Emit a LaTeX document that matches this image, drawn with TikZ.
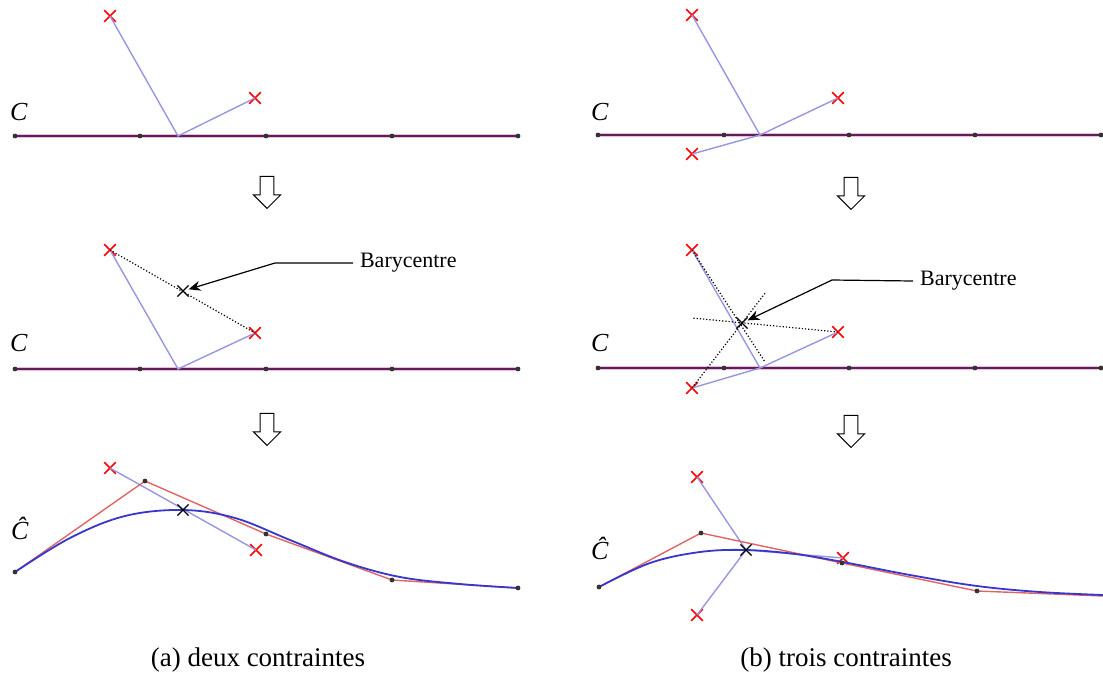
\documentclass[tikz,border=0pt]{standalone}
\usepackage{fontspec}
\setmainfont{Liberation Serif}
\usetikzlibrary{shapes.misc,shapes.arrows,arrows.meta}
\definecolor{courbe}{RGB}{95,30,85}
\definecolor{halo}{RGB}{235,190,225}
\definecolor{lien}{RGB}{150,150,225}
\definecolor{poly}{RGB}{225,100,100}
\definecolor{lisse}{RGB}{55,55,205}

\tikzset{
  contrainte/.style={cross out,draw=red,line width=0.8pt,minimum size=5pt,inner sep=0pt},
  bary/.style={cross out,draw=black,line width=0.6pt,minimum size=5pt,inner sep=0pt},
  pt/.style={circle,fill=black!80,inner sep=0pt,minimum size=2.4pt},
  fleche/.style={single arrow,draw,line width=0.5pt,rotate=-90,inner xsep=0pt,inner ysep=3.2pt,
    minimum height=16pt,single arrow head extend=3.4pt},
  etiq/.style={font=\fontsize{11}{13}\selectfont},
  titre/.style={font=\fontsize{13.5}{16}\selectfont}
}

\begin{document}
\begin{tikzpicture}[x=0.5pt,y=-0.5pt]
\useasboundingbox (0,0) rectangle (1103,675);

%% (a) deux contraintes
% haut
\foreach \x [count=\i] in {15,140,266,392,518}
  \coordinate (ah\i) at (\x,136);
\coordinate (aha) at (178,136);
\draw[halo,line width=2pt] (ah1) -- (ah5);
\draw[courbe,line width=0.9pt] (ah1) -- (ah5);
\foreach \i in {1,...,5} \node[pt] (dah\i) at (ah\i) {};
\node[contrainte] (ahc1) at (110,16) {};
\node[contrainte] (ahc2) at (255,98) {};
\draw[lien,line width=0.7pt] (ahc1.center) -- (aha) -- (ahc2.center);
\node (ahC) at (19,112) {\fontsize{13}{15}\selectfont\textit{C}};

\node[fleche] (af1) at (267,189) {};

% milieu
\foreach \x [count=\i] in {15,140,266,392,518}
  \coordinate (am\i) at (\x,369);
\coordinate (ama) at (178,369);
\draw[halo,line width=2pt] (am1) -- (am5);
\draw[courbe,line width=0.9pt] (am1) -- (am5);
\foreach \i in {1,...,5} \node[pt] (dam\i) at (am\i) {};
\node[contrainte] (amc1) at (110,250) {};
\node[contrainte] (amc2) at (255,333) {};
\draw[lien,line width=0.7pt] (amc1.center) -- (ama) -- (amc2.center);
\draw[densely dotted,line width=0.6pt] (amc1.center) -- (amc2.center);
\node[bary] (amb) at (183,291) {};
\node[etiq,anchor=west] (amt) at (353,263) {Barycentre};
\coordinate (amk) at (275,263);
\draw[line width=0.6pt,-{Stealth[length=6pt,width=5pt,inset=2pt]}] (amt.west) -- (amk) -- (amb);
\node (amC) at (19,343) {\fontsize{13}{15}\selectfont\textit{C}};

\node[fleche] (af2) at (267,426) {};

% bas
\coordinate (ab1) at (15,572);
\coordinate (ab2) at (145,481);
\coordinate (ab3) at (266,534);
\coordinate (ab4) at (392,580);
\coordinate (ab5) at (518,588);
\node[contrainte] (abc1) at (110,468) {};
\node[contrainte] (abc2) at (256,550) {};
\draw[lien,line width=0.7pt] (abc1.center) -- (abc2.center);
\draw[poly,line width=0.7pt] (ab1) -- (ab2) -- (ab3) -- (ab4) -- (ab5);
\draw[lisse,line width=0.9pt] plot[smooth,tension=0.6] coordinates
  {(15,572) (70,538) (125,516) (183,510) (235,518) (290,540) (345,562) (400,577) (460,584) (518,588)};
\foreach \i in {1,...,5} \node[pt] (dab\i) at (ab\i) {};
\node[bary] (abb) at (183,510) {};
\node (abC) at (20,528) {\fontsize{13}{15}\selectfont\textit{\^C}};

\node[titre] (acap) at (258,660) {(a) deux contraintes};

%% (b) trois contraintes
% haut
\foreach \x [count=\i] in {598,724,849,975,1101}
  \coordinate (bh\i) at (\x,135);
\coordinate (bha) at (760,135);
\draw[halo,line width=2pt] (bh1) -- (1103,135);
\draw[courbe,line width=0.9pt] (bh1) -- (1103,135);
\foreach \i in {1,...,5} \node[pt] (dbh\i) at (bh\i) {};
\node[contrainte] (bhc1) at (692,15) {};
\node[contrainte] (bhc2) at (838,98) {};
\node[contrainte] (bhc3) at (692,154) {};
\draw[lien,line width=0.7pt] (bhc1.center) -- (bha) -- (bhc2.center);
\draw[lien,line width=0.7pt] (bha) -- (bhc3.center);
\node (bhC) at (600,112) {\fontsize{13}{15}\selectfont\textit{C}};

\node[fleche] (bf1) at (851,190) {};

% milieu
\foreach \x [count=\i] in {598,724,849,975,1101}
  \coordinate (bm\i) at (\x,368);
\coordinate (bma) at (760,368);
\draw[halo,line width=2pt] (bm1) -- (1103,368);
\draw[courbe,line width=0.9pt] (bm1) -- (1103,368);
\foreach \i in {1,...,5} \node[pt] (dbm\i) at (bm\i) {};
\node[contrainte] (bmc1) at (692,250) {};
\node[contrainte] (bmc2) at (838,332) {};
\node[contrainte] (bmc3) at (692,388) {};
\draw[lien,line width=0.7pt] (bmc1.center) -- (bma) -- (bmc2.center);
\draw[lien,line width=0.7pt] (bma) -- (bmc3.center);
\coordinate (bme1) at (765,362);
\coordinate (bme2) at (692,318);
\coordinate (bme3) at (766,292);
\draw[densely dotted,line width=0.6pt] (bmc1.center) -- (bme1);
\draw[densely dotted,line width=0.6pt] (bmc2.center) -- (bme2);
\draw[densely dotted,line width=0.6pt] (bmc3.center) -- (bme3);
\node[bary] (bmb) at (742,323) {};
\node[etiq,anchor=west] (bmt) at (913,281) {Barycentre};
\coordinate (bmk) at (832,280);
\draw[line width=0.6pt,-{Stealth[length=6pt,width=5pt,inset=2pt]}] (bmt.west) -- (bmk) -- (bmb);
\node (bmC) at (600,343) {\fontsize{13}{15}\selectfont\textit{C}};

\node[fleche] (bf2) at (851,428) {};

% bas
\coordinate (bb1) at (599,587);
\coordinate (bb2) at (701,533);
\coordinate (bb3) at (842,563);
\coordinate (bb4) at (977,591);
\coordinate (bb5) at (1103,596);
\node[contrainte] (bbc1) at (697,477) {};
\node[contrainte] (bbc2) at (697,615) {};
\node[contrainte] (bbc3) at (843,558) {};
\coordinate (bbx) at (746,550);
\draw[lien,line width=0.7pt] (bbc1.center) -- (bbx) -- (bbc2.center);
\draw[lien,line width=0.7pt] (bbx) -- (bbc3.center);
\draw[poly,line width=0.7pt] (bb1) -- (bb2) -- (bb3) -- (bb4) -- (bb5);
\draw[lisse,line width=0.9pt] plot[smooth,tension=0.6] coordinates
  {(599,587) (650,563) (700,552) (746,550) (795,554) (843,562) (910,575) (977,586) (1040,592) (1103,595)};
\foreach \i in {1,...,4} \node[pt] (dbb\i) at (bb\i) {};
\node[bary] (bbb) at (bbx) {};
\node (bbC) at (600,548) {\fontsize{13}{15}\selectfont\textit{\^C}};

\node[titre] (bcap) at (846,660) {(b) trois contraintes};
\end{tikzpicture}
\end{document}
